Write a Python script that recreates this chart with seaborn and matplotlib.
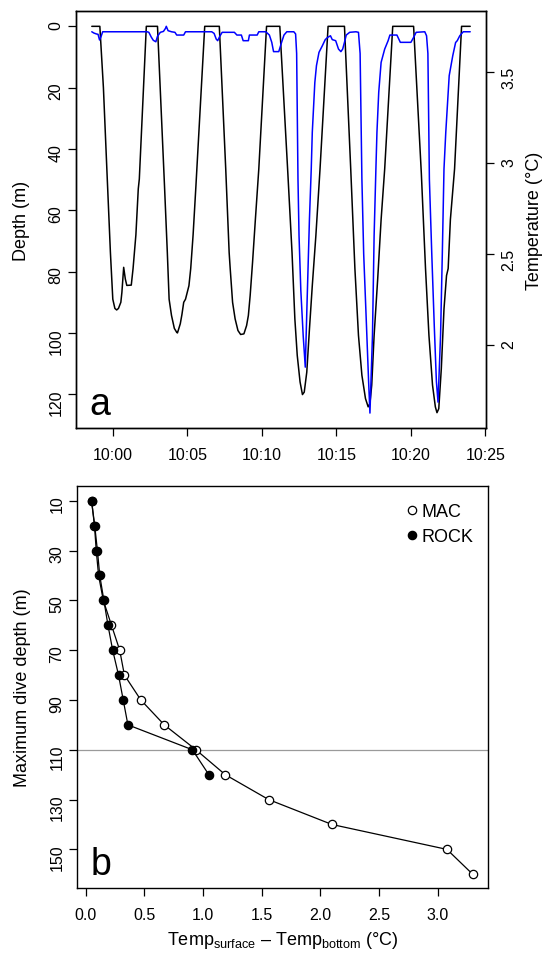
import matplotlib
matplotlib.use("Agg")
import matplotlib.pyplot as plt
from matplotlib.lines import Line2D
import seaborn as sns

# ---------------- Panel a data (minutes after 10:00) ----------------
depth_time = [-1.41, -0.87, -0.63, -0.40, -0.16, 0.00, 0.14, 0.26, 0.38, 0.54, 0.61, 0.73, 0.84, 0.94,
              1.24, 1.36, 1.55, 1.71, 1.78, 2.25, 3.00,
              3.47, 3.66, 3.78, 3.94, 4.13, 4.29, 4.34, 4.53, 4.64, 4.76, 4.88, 5.11, 5.23, 5.39, 5.58,
              6.17, 7.15,
              7.58, 7.81, 7.88, 8.04, 8.21, 8.40, 8.58, 8.80, 8.98, 9.10, 9.22, 9.38, 9.57, 9.80,
              10.32, 11.21,
              11.75, 12.03, 12.22, 12.38, 12.57, 12.73, 12.85, 13.02, 13.20, 13.39, 13.63, 13.91,
              14.45, 15.55,
              15.97, 16.25, 16.49, 16.72, 16.96, 17.14, 17.26, 17.38, 17.54, 17.78, 18.01, 18.25,
              18.79, 20.19,
              20.71, 20.99, 21.22, 21.46, 21.65, 21.76, 21.88, 22.05, 22.23, 22.40, 22.51, 22.66, 22.94,
              23.41, 23.99]
depth_m = [0, 0, 20, 46.5, 73.8, 89, 92, 92.5, 92, 90, 86.8, 78.6, 82.4, 84.5,
           84.4, 79, 68, 53, 49.8, 0, 0,
           52, 73.8, 89, 94.3, 98.5, 99.8, 100, 97, 94, 90, 89, 84.6, 79, 68, 52,
           0, 0,
           46.5, 73.8, 79, 90, 95.4, 99.2, 100.5, 100.3, 97.6, 94.3, 87.8, 77, 63, 46.5,
           0, 0,
           48, 73.8, 95.4, 107.3, 116, 120.1, 119.3, 112.8, 98.7, 84.6, 68.3, 46.5,
           0, 0,
           46.5, 79, 100.8, 113.8, 121.4, 124.1, 123, 117, 100.8, 82.4, 63, 46.5,
           0, 0,
           48, 79, 100.8, 117, 124.1, 126, 124.7, 111.7, 92.2, 81.3, 79, 63, 46.5,
           0, 0]

temp_time = [-1.41, -1.27, -1.10, -0.99, -0.89, -0.80, -0.68, 2.30, 2.42, 2.58, 2.72, 2.89, 3.00,
             3.19, 3.40, 3.54, 3.59, 3.71, 3.94, 4.17, 4.29, 4.76, 4.88, 6.64, 6.80, 6.94, 7.04,
             7.18, 7.34, 8.16, 8.33, 8.63, 8.75, 9.10, 9.17, 9.69, 9.80, 10.27, 10.51, 10.67,
             10.79, 11.14, 11.33, 11.49, 11.68, 12.15, 12.27, 12.34, 12.43, 12.50, 12.62, 12.78,
             12.92, 13.04, 13.20, 13.32, 13.39, 13.56, 13.67, 13.84, 14.07, 14.26, 14.42, 14.61,
             14.73, 14.96, 15.15, 15.31, 15.43, 15.55, 15.67, 15.90, 16.32, 16.49, 16.60, 16.72,
             16.84, 17.03, 17.17, 17.26, 17.43, 17.54, 17.66, 17.73, 17.85, 18.01, 18.25, 18.48,
             18.60, 19.07, 19.30, 20.01, 20.19, 20.36, 20.94, 21.06, 21.15, 21.25, 21.41, 21.58,
             21.72, 21.83, 22.00, 22.12, 22.23, 22.35, 22.58, 22.82, 23.01, 23.12, 23.29, 23.52,
             23.99]
temp_c = [3.719, 3.712, 3.707, 3.705, 3.674, 3.690, 3.719, 3.719, 3.716, 3.690, 3.672, 3.664, 3.694,
          3.716, 3.721, 3.738, 3.749, 3.725, 3.719, 3.716, 3.701, 3.701, 3.719, 3.719, 3.710, 3.679, 3.670,
          3.694, 3.716, 3.716, 3.701, 3.701, 3.670, 3.670, 3.701, 3.701, 3.719, 3.719, 3.701, 3.661,
          3.610, 3.610, 3.661, 3.701, 3.719, 3.719, 3.707, 3.600, 2.910, 2.600, 2.300, 2.050,
          1.878, 2.235, 2.692, 2.966, 3.167, 3.440, 3.533, 3.606, 3.643, 3.676, 3.688, 3.697,
          3.676, 3.670, 3.624, 3.610, 3.624, 3.661, 3.701, 3.716, 3.719, 3.716, 3.600, 2.910,
          2.500, 2.100, 1.800, 1.626, 2.052, 2.600, 2.966, 3.167, 3.387, 3.551, 3.624, 3.670,
          3.701, 3.701, 3.661, 3.661, 3.688, 3.716, 3.719, 3.697, 3.600, 2.910, 2.500, 2.100,
          1.800, 1.686, 2.052, 2.509, 2.966, 3.167, 3.478, 3.588, 3.660, 3.670, 3.697, 3.719,
          3.719]

time_ticks = [0, 5, 10, 15, 20, 25]
time_labels = ["10:00", "10:05", "10:10", "10:15", "10:20", "10:25"]
depth_ticks = [0, 20, 40, 60, 80, 100, 120]
temp_ticks = [2.0, 2.5, 3.0, 3.5]
temp_labels = ["2", "2.5", "3", "3.5"]

# ---------------- Panel b data ----------------
mac_depth = [10, 20, 30, 40, 50, 60, 70, 80, 90, 100, 110, 120, 130, 140, 150, 160]
mac_dtemp = [0.05, 0.075, 0.09, 0.11, 0.15, 0.22, 0.29, 0.33, 0.47, 0.67, 0.94, 1.19, 1.56, 2.10, 3.08, 3.30]
rock_depth = [10, 20, 30, 40, 50, 60, 70, 80, 90, 100, 110, 120]
rock_dtemp = [0.05, 0.077, 0.10, 0.12, 0.155, 0.19, 0.23, 0.28, 0.32, 0.36, 0.91, 1.05]
b_yticks = [10, 30, 50, 70, 90, 110, 130, 150]
b_xticks = [0.0, 0.5, 1.0, 1.5, 2.0, 2.5, 3.0]
series_names = ["MAC", "ROCK"]
threshold_depth = 110

# ---------------- Styling ----------------
sns.set_theme(style="ticks")
plt.rcParams["font.family"] = ["Liberation Sans", "DejaVu Sans"]
plt.rcParams["mathtext.fontset"] = "custom"
plt.rcParams["mathtext.rm"] = "Liberation Sans"
plt.rcParams["mathtext.it"] = "Liberation Sans:italic"
plt.rcParams["mathtext.bf"] = "Liberation Sans:bold"
plt.rcParams["text.color"] = "black"
plt.rcParams["axes.labelcolor"] = "black"
plt.rcParams["xtick.color"] = "black"
plt.rcParams["ytick.color"] = "black"

W, H = 548, 954
fig = plt.figure(figsize=(W / 100, H / 100), dpi=100)

TICK_FS = 11.5
LABEL_FS = 13


def style_axes(a):
    for s in a.spines.values():
        s.set_color("black")
        s.set_linewidth(1.0)
        s.set_visible(True)
    a.grid(False)
    a.set_facecolor("white")


# ---------------- Panel a ----------------
ax = fig.add_axes([76 / W, 1 - 429 / H, 410 / W, 417 / H])
sns.lineplot(x=depth_time, y=depth_m, ax=ax, color="black", lw=1.1,
             estimator=None, sort=False)
ax.set_xlim(-2.47, 25.05)
ax.set_ylim(131, -5)
ax.set_xticks(time_ticks)
ax.set_xticklabels(time_labels)
ax.set_yticks(depth_ticks)
ax.set_yticklabels([str(v) for v in depth_ticks])
ax.set_xlabel("")
ax.set_ylabel("Depth (m)", fontsize=LABEL_FS)
ax.yaxis.set_label_coords(-0.112, 0.5)
ax.tick_params(axis="both", direction="out", length=6, width=0.9, color="black",
               labelsize=TICK_FS, labelcolor="black")
ax.tick_params(axis="x", pad=8)
ax.tick_params(axis="y", labelrotation=90, pad=3)
style_axes(ax)
ax.text(0.032, 0.034, "a", transform=ax.transAxes, fontsize=27, va="baseline", ha="left")

ax2 = ax.twinx()
sns.lineplot(x=temp_time, y=temp_c, ax=ax2, color="#0000ff", lw=1.1,
             estimator=None, sort=False)
ax2.set_ylim(1.544, 3.833)
ax2.set_yticks(temp_ticks)
ax2.set_yticklabels(temp_labels)
ax2.set_ylabel("Temperature (\u00b0C)", fontsize=LABEL_FS)
ax2.yaxis.set_label_coords(1.098, 0.5)
ax2.tick_params(axis="y", direction="out", length=6, width=0.9, color="black",
                labelsize=TICK_FS, labelcolor="black", labelrotation=90, pad=5)
ax2.grid(False)
for s in ax2.spines.values():
    s.set_color("black")
    s.set_linewidth(1.0)

# ---------------- Panel b ----------------
bx = fig.add_axes([77 / W, 1 - 889 / H, 411 / W, 402 / H])
bx.axhline(threshold_depth, color="#9a9a9a", lw=0.9, zorder=1)
sns.lineplot(x=mac_dtemp, y=mac_depth, ax=bx, color="black", lw=0.9,
             marker="o", markersize=6, markerfacecolor="white", markeredgecolor="black",
             markeredgewidth=0.9, estimator=None, sort=False, zorder=3)
sns.lineplot(x=rock_dtemp, y=rock_depth, ax=bx, color="black", lw=0.9,
             marker="o", markersize=6, markerfacecolor="black", markeredgecolor="black",
             markeredgewidth=0.9, estimator=None, sort=False, zorder=4)
bx.set_xlim(-0.074, 3.43)
bx.set_ylim(165.5, 4.1)
bx.set_xticks(b_xticks)
bx.set_xticklabels([f"{v:.1f}" for v in b_xticks])
bx.set_yticks(b_yticks)
bx.set_yticklabels([str(v) for v in b_yticks])
bx.set_ylabel("Maximum dive depth (m)", fontsize=LABEL_FS)
bx.yaxis.set_label_coords(-0.112, 0.5)
xlab = "Temp$_{\\mathrm{surface}}$ \u2013 Temp$_{\\mathrm{bottom}}$ (\u00b0C)"
bx.set_xlabel(xlab, fontsize=LABEL_FS, labelpad=5)
bx.tick_params(axis="both", direction="out", length=6, width=0.9, color="black",
               labelsize=TICK_FS, labelcolor="black")
bx.tick_params(axis="x", pad=8)
bx.tick_params(axis="y", labelrotation=90, pad=3)
style_axes(bx)
bx.text(0.032, 0.035, "b", transform=bx.transAxes, fontsize=27, va="baseline", ha="left")

handles = [
    Line2D([], [], ls="none", marker="o", markersize=6, markerfacecolor="white",
           markeredgecolor="black", markeredgewidth=0.9),
    Line2D([], [], ls="none", marker="o", markersize=6, markerfacecolor="black",
           markeredgecolor="black", markeredgewidth=0.9),
]
bx.legend(handles, series_names, loc="upper left", bbox_to_anchor=(0.78, 0.975),
          frameon=False, fontsize=13, handlelength=0.8, handletextpad=0.15,
          labelspacing=0.45, borderaxespad=0)

fig.savefig("out.png", dpi=100)
